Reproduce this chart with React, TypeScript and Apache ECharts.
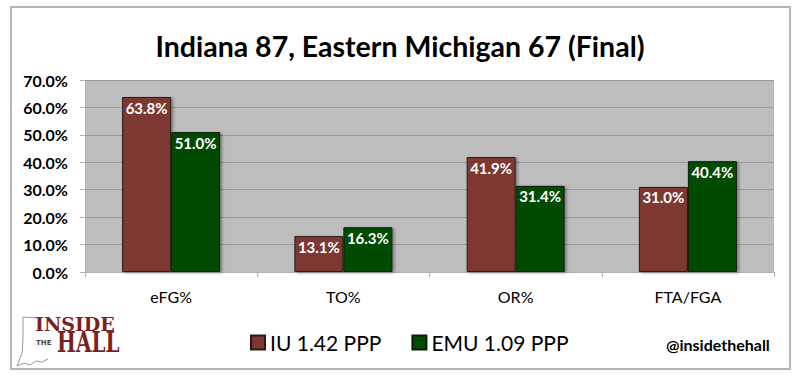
import React, { useEffect, useRef } from "react";
import * as echarts from "echarts";

const categories = ["eFG%", "TO%", "OR%", "FTA/FGA"];
const iuValues = [63.8, 13.1, 41.9, 31.0];
const emuValues = [51.0, 16.3, 31.4, 40.4];
const seriesNames = ["IU 1.42 PPP", "EMU 1.09 PPP"];
const titleText = "Indiana 87, Eastern Michigan 67 (Final)";
const handle = "@insidethehall";

const FONT = "Lato, 'Open Sans', sans-serif";

export default function App() {
  const ref = useRef<HTMLDivElement>(null);
  useEffect(() => {
    document.body.style.margin = "0";
    const chart = echarts.init(ref.current!, null, { renderer: "svg" });
    const barBase = {
      type: "bar",
      barWidth: 49,
      barGap: "0%",
      label: {
        show: true,
        position: "insideTop",
        distance: 3,
        color: "#ffffff",
        fontWeight: "bold",
        fontSize: 15,
        fontFamily: FONT,
        formatter: (p: any) => Number(p.value).toFixed(1) + "%",
      },
    };
    chart.setOption({
      animation: false,
      backgroundColor: "#ffffff",
      title: {
        text: titleText,
        left: "center",
        top: 26,
        textStyle: { fontFamily: FONT, fontSize: 28.5, fontWeight: "bold", color: "#000" },
      },
      grid: {
        left: 85,
        right: 26,
        top: 80,
        bottom: 105,
        show: true,
        backgroundColor: "#bdbdbd",
        borderWidth: 0,
      },
      legend: {
        left: 245,
        top: 327,
        icon: "rect",
        itemWidth: 14,
        itemHeight: 14,
        itemGap: 30,
        textStyle: { fontFamily: FONT, fontSize: 21, color: "#000" },
        data: seriesNames,
      },
      xAxis: {
        type: "category",
        data: categories,
        axisLine: { lineStyle: { color: "#b0b0b0", width: 1 } },
        axisTick: { show: true, length: 5, lineStyle: { color: "#b0b0b0" } },
        axisLabel: { fontFamily: FONT, fontSize: 16, color: "#000", margin: 16 },
      },
      yAxis: {
        type: "value",
        min: 0,
        max: 70,
        interval: 10,
        axisLine: { show: true, lineStyle: { color: "#b0b0b0" } },
        axisTick: { show: true, length: 5, lineStyle: { color: "#b0b0b0" } },
        axisLabel: {
          fontFamily: FONT,
          fontSize: 16,
          fontWeight: "bold",
          color: "#000",
          margin: 17,
          formatter: (v: number) => v.toFixed(1) + "%",
        },
        splitLine: { lineStyle: { color: "#999999", width: 1 } },
      },
      series: [
        {
          ...barBase,
          name: seriesNames[0],
          data: iuValues,
          itemStyle: {
            color: "#7d3733",
            borderColor: "#2a1a18",
            borderWidth: 1,
            shadowBlur: 3,
            shadowOffsetX: 2,
            shadowOffsetY: 1,
            shadowColor: "rgba(0,0,0,0.35)",
          },
        },
        {
          ...barBase,
          name: seriesNames[1],
          data: emuValues,
          itemStyle: {
            color: "#024c02",
            borderColor: "#0f1a0f",
            borderWidth: 1,
            shadowBlur: 3,
            shadowOffsetX: 2,
            shadowOffsetY: 1,
            shadowColor: "rgba(0,0,0,0.35)",
          },
        },
      ],
      graphic: [
        {
          type: "rect",
          shape: { x: 11, y: 7, width: 779, height: 362 },
          style: { fill: "none", stroke: "#b5b5b5", lineWidth: 2 },
          silent: true,
          z: -1,
        },
        {
          type: "polyline",
          shape: {
            points: [
              [37, 318], [23, 317], [23, 340], [22, 353], [20, 358], [17, 366],
              [24, 363], [30, 365], [36, 361], [42, 362], [48, 359],
            ],
          },
          style: { fill: "none", stroke: "#9a9a9a", lineWidth: 1 },
          silent: true,
        },
        {
          type: "text",
          x: 35,
          y: 314,
          style: {
            text: "INSIDE",
            fontFamily: "'DejaVu Serif', serif",
            fontWeight: "bold",
            fontSize: 19,
            fill: "#7a1f22",
          },
          scaleX: 1.0,
        },
        {
          type: "text",
          x: 36,
          y: 339,
          style: { text: "THE", fontFamily: "'DejaVu Sans'", fontWeight: "bold", fontSize: 7, fill: "#444" },
        },
        {
          type: "text",
          x: 57,
          y: 329,
          style: {
            text: "HALL",
            fontFamily: "'DejaVu Serif', serif",
            fontWeight: "bold",
            fontSize: 27,
            fill: "#7a1f22",
          },
          scaleX: 0.74,
        },
        {
          type: "text",
          x: 666,
          y: 336,
          style: { text: handle, fontFamily: FONT, fontWeight: "bold", fontSize: 16, fill: "#000" },
        },
      ],
    });
    return () => chart.dispose();
  }, []);
  return <div ref={ref} style={{ width: 800, height: 377 }} />;
}
